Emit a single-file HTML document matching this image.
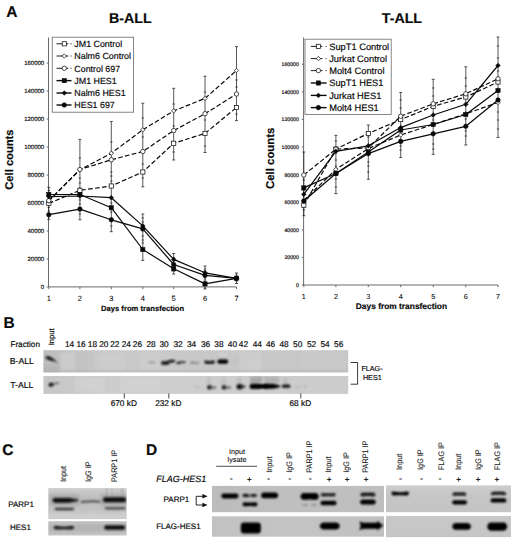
<!DOCTYPE html>
<html lang="en"><head><meta charset="utf-8"><title>Figure</title>
<style>
html,body{margin:0;padding:0;background:#fff;}
svg{display:block;font-family:"Liberation Sans", sans-serif;}
text{fill:#0a0a0a;stroke:#0a0a0a;stroke-width:0.18px;text-rendering:geometricPrecision;}
.b{font-weight:bold;}
.tk{font-size:6px;fill:#222;}
.tk2{font-size:5.2px;fill:#222;}
.xt{font-size:7.6px;fill:#111;}
.lg{font-size:8.9px;}
.ax{stroke:#6a6a6a;stroke-width:1;fill:none;}
.eb{stroke:#222;stroke-width:0.75;fill:none;}
.sl{stroke:#0a0a0a;stroke-width:1.2;fill:none;stroke-linejoin:round;}
.dl{stroke:#0a0a0a;stroke-width:1.2;fill:none;stroke-dasharray:4.7 2.3;stroke-linejoin:round;}
.om{fill:#fff;stroke:#111;stroke-width:0.75;}
.fm{fill:#0a0a0a;stroke:#0a0a0a;stroke-width:0.5;}
.s8{font-size:8px;}
.rl{font-size:8.1px;stroke:#161616;stroke-width:0.08px;fill:#161616;}
.s7{font-size:7.2px;stroke-width:0.08px;}
</style></head><body>
<svg width="520" height="541" viewBox="0 0 520 541">
<defs>
<filter id="b1" x="-20%" y="-100%" width="140%" height="300%"><feGaussianBlur stdDeviation="0.8"/></filter>
<filter id="b2" x="-20%" y="-100%" width="140%" height="300%"><feGaussianBlur stdDeviation="1.1"/></filter>
<filter id="b3" x="-20%" y="-100%" width="140%" height="300%"><feGaussianBlur stdDeviation="1.8"/></filter>
<filter id="b0" x="-5%" y="-5%" width="110%" height="110%"><feGaussianBlur stdDeviation="0.35"/></filter>
<linearGradient id="gB" x1="0" x2="1" y1="0" y2="0"><stop offset="0" stop-color="#bdbdbd"/><stop offset="0.25" stop-color="#c9c9c9"/><stop offset="1" stop-color="#c6c6c6"/></linearGradient>
<linearGradient id="gT" x1="0" x2="1" y1="0" y2="0"><stop offset="0" stop-color="#c6c6c6"/><stop offset="0.3" stop-color="#cfcfcf"/><stop offset="1" stop-color="#cbcbcb"/></linearGradient>
<clipPath id="cpB1"><rect x="43.4" y="350.2" width="304.8" height="22.2"/></clipPath>
<clipPath id="cpB2"><rect x="43.4" y="376.0" width="304.8" height="17.9"/></clipPath>
<clipPath id="cpC1"><rect x="48.3" y="488.1" width="78.3" height="31.0"/></clipPath>
<clipPath id="cpC2"><rect x="48.3" y="521.2" width="78.3" height="14.3"/></clipPath>
<linearGradient id="gC1" x1="0" x2="0" y1="0" y2="1"><stop offset="0" stop-color="#cfcfcf"/><stop offset="0.3" stop-color="#bdbdbd"/><stop offset="0.65" stop-color="#c2c2c2"/><stop offset="1" stop-color="#cbcbcb"/></linearGradient>
<linearGradient id="gC2" x1="0" x2="0" y1="0" y2="1"><stop offset="0" stop-color="#c4c4c4"/><stop offset="0.5" stop-color="#b9b9b9"/><stop offset="1" stop-color="#c6c6c6"/></linearGradient>
<linearGradient id="gD1" x1="0" x2="1" y1="0" y2="0"><stop offset="0" stop-color="#bcbcbc"/><stop offset="0.5" stop-color="#c0c0c0"/><stop offset="1" stop-color="#bebebe"/></linearGradient>
<linearGradient id="gD2" x1="0" x2="1" y1="0" y2="0"><stop offset="0" stop-color="#c2c2c2"/><stop offset="0.5" stop-color="#c4c4c4"/><stop offset="1" stop-color="#c0c0c0"/></linearGradient>
<linearGradient id="gD3" x1="0" x2="0" y1="0" y2="1"><stop offset="0" stop-color="#cdcdcd"/><stop offset="0.4" stop-color="#c6c6c6"/><stop offset="1" stop-color="#c4c4c4"/></linearGradient>
<linearGradient id="gD4" x1="0" x2="0" y1="0" y2="1"><stop offset="0" stop-color="#c8c8c8"/><stop offset="1" stop-color="#c5c5c5"/></linearGradient>
</defs>
<rect width="520" height="541" fill="#fff"/>

<path class="ax" d="M48.50 37.50V286.90H236.50"/>
<path class="ax" d="M46.70 287.00H48.50"/>
<text class="tk" x="44.20" y="289.20" text-anchor="end">0</text>
<path class="ax" d="M46.70 259.01H48.50"/>
<text class="tk" x="44.20" y="261.21" text-anchor="end">20000</text>
<path class="ax" d="M46.70 231.03H48.50"/>
<text class="tk" x="44.20" y="233.22" text-anchor="end">40000</text>
<path class="ax" d="M46.70 203.04H48.50"/>
<text class="tk" x="44.20" y="205.24" text-anchor="end">60000</text>
<path class="ax" d="M46.70 175.05H48.50"/>
<text class="tk" x="44.20" y="177.25" text-anchor="end">80000</text>
<path class="ax" d="M46.70 147.06H48.50"/>
<text class="tk" x="44.20" y="149.26" text-anchor="end">100000</text>
<path class="ax" d="M46.70 119.07H48.50"/>
<text class="tk" x="44.20" y="121.27" text-anchor="end">120000</text>
<path class="ax" d="M46.70 91.09H48.50"/>
<text class="tk" x="44.20" y="93.29" text-anchor="end">140000</text>
<path class="ax" d="M46.70 63.10H48.50"/>
<text class="tk" x="44.20" y="65.30" text-anchor="end">160000</text>
<path class="ax" d="M48.80 286.90v2.2"/>
<text font-size="7.5" x="48.80" y="300.90" text-anchor="middle" style="stroke-width:0.08px">1</text>
<path class="ax" d="M79.90 286.90v2.2"/>
<text font-size="7.5" x="79.90" y="300.90" text-anchor="middle" style="stroke-width:0.08px">2</text>
<path class="ax" d="M111.30 286.90v2.2"/>
<text font-size="7.5" x="111.30" y="300.90" text-anchor="middle" style="stroke-width:0.08px">3</text>
<path class="ax" d="M142.80 286.90v2.2"/>
<text font-size="7.5" x="142.80" y="300.90" text-anchor="middle" style="stroke-width:0.08px">4</text>
<path class="ax" d="M173.70 286.90v2.2"/>
<text font-size="7.5" x="173.70" y="300.90" text-anchor="middle" style="stroke-width:0.08px">5</text>
<path class="ax" d="M205.00 286.90v2.2"/>
<text font-size="7.5" x="205.00" y="300.90" text-anchor="middle" style="stroke-width:0.08px">6</text>
<path class="ax" d="M236.50 286.90v2.2"/>
<text font-size="7.5" x="236.50" y="300.90" text-anchor="middle" style="stroke-width:0.08px">7</text>
<text class="b" font-size="7.65" x="142.60" y="310.80" text-anchor="middle">Days from transfection</text>
<text class="b" font-size="11.2" transform="translate(13.20 159.60) rotate(-90)" text-anchor="middle">Cell counts</text>
<path class="eb" d="M48.80 187.40V219.40M47.30 187.40H50.30M47.30 219.40H50.30M47.60 190.50H50.00M47.60 193.00H50.00M47.60 198.00H50.00M47.60 207.50H50.00M47.60 211.00H50.00"/>
<path class="eb" d="M79.90 139.40V219.80M78.40 139.40H81.40M78.40 219.80H81.40M78.70 158.00H81.10M78.70 178.00H81.10M78.70 183.00H81.10M78.70 188.00H81.10M78.70 200.00H81.10M78.70 204.00H81.10M78.70 214.00H81.10"/>
<path class="eb" d="M111.30 121.50V231.70M109.80 121.50H112.80M109.80 231.70H112.80M110.10 142.00H112.50M110.10 172.00H112.50M110.10 176.00H112.50M110.10 181.00H112.50M110.10 197.00H112.50M110.10 203.00H112.50M110.10 212.00H112.50M110.10 226.00H112.50"/>
<path class="eb" d="M142.80 103.20V186.80M141.30 103.20H144.30M141.30 186.80H144.30M141.60 118.00H144.00M141.60 137.00H144.00M141.60 164.00H144.00M141.60 178.00H144.00"/>
<path class="eb" d="M142.80 214.00V260.40M141.30 214.00H144.30M141.30 260.40H144.30M141.60 218.00H144.00M141.60 222.00H144.00M141.60 236.00H144.00M141.60 240.00H144.00M141.60 243.00H144.00"/>
<path class="eb" d="M173.70 88.30V160.00M172.20 88.30H175.20M172.20 160.00H175.20M172.50 104.00H174.90M172.50 126.00H174.90M172.50 152.00H174.90"/>
<path class="eb" d="M173.70 253.50V274.00M172.20 253.50H175.20M172.20 274.00H175.20M172.50 258.00H174.90M172.50 261.00H174.90M172.50 268.00H174.90M172.50 271.00H174.90"/>
<path class="eb" d="M205.00 76.20V152.50M203.50 76.20H206.50M203.50 152.50H206.50M203.80 92.00H206.20M203.80 120.00H206.20M203.80 146.00H206.20"/>
<path class="eb" d="M205.00 266.00V289.00M203.50 266.00H206.50M203.50 289.00H206.50M203.80 269.00H206.20M203.80 271.00H206.20M203.80 279.00H206.20M203.80 281.00H206.20"/>
<path class="eb" d="M236.50 46.60V120.60M235.00 46.60H238.00M235.00 120.60H238.00M235.30 80.00H237.70M235.30 87.00H237.70M235.30 114.00H237.70"/>
<path class="eb" d="M236.50 273.00V283.50M235.00 273.00H238.00M235.00 283.50H238.00M235.30 275.00H237.70M235.30 281.00H237.70"/>
<polyline class="dl" points="48.80,203.40 79.90,190.30 111.30,186.00 142.80,172.00 173.70,143.30 205.00,133.40 236.50,107.50"/>
<polyline class="dl" points="48.80,201.00 79.90,169.80 111.30,153.20 142.80,129.80 173.70,110.90 205.00,98.40 236.50,70.50"/>
<polyline class="dl" points="48.80,200.60 79.90,169.50 111.30,159.80 142.80,151.50 173.70,130.60 205.00,113.70 236.50,94.00"/>
<polyline class="sl" points="48.80,194.50 79.90,194.50 111.30,207.70 142.80,249.50 173.70,268.80 205.00,283.90 236.50,278.30"/>
<polyline class="sl" points="48.80,196.60 79.90,196.00 111.30,197.70 142.80,225.90 173.70,259.40 205.00,272.80 236.50,278.30"/>
<polyline class="sl" points="48.80,214.70 79.90,209.10 111.30,219.80 142.80,228.90 173.70,264.50 205.00,275.40 236.50,278.30"/>
<rect class="om" x="46.70" y="201.30" width="4.20" height="4.20"/>
<rect class="om" x="77.80" y="188.20" width="4.20" height="4.20"/>
<rect class="om" x="109.20" y="183.90" width="4.20" height="4.20"/>
<rect class="om" x="140.70" y="169.90" width="4.20" height="4.20"/>
<rect class="om" x="171.60" y="141.20" width="4.20" height="4.20"/>
<rect class="om" x="202.90" y="131.30" width="4.20" height="4.20"/>
<rect class="om" x="234.40" y="105.40" width="4.20" height="4.20"/>
<path class="om" d="M48.80 198.85L50.95 201.00L48.80 203.15L46.65 201.00Z"/>
<path class="om" d="M79.90 167.65L82.05 169.80L79.90 171.95L77.75 169.80Z"/>
<path class="om" d="M111.30 151.05L113.45 153.20L111.30 155.35L109.15 153.20Z"/>
<path class="om" d="M142.80 127.65L144.95 129.80L142.80 131.95L140.65 129.80Z"/>
<path class="om" d="M173.70 108.75L175.85 110.90L173.70 113.05L171.55 110.90Z"/>
<path class="om" d="M205.00 96.25L207.15 98.40L205.00 100.55L202.85 98.40Z"/>
<path class="om" d="M236.50 68.35L238.65 70.50L236.50 72.65L234.35 70.50Z"/>
<circle class="om" cx="48.80" cy="200.60" r="2.20"/>
<circle class="om" cx="79.90" cy="169.50" r="2.20"/>
<circle class="om" cx="111.30" cy="159.80" r="2.20"/>
<circle class="om" cx="142.80" cy="151.50" r="2.20"/>
<circle class="om" cx="173.70" cy="130.60" r="2.20"/>
<circle class="om" cx="205.00" cy="113.70" r="2.20"/>
<circle class="om" cx="236.50" cy="94.00" r="2.20"/>
<rect class="fm" x="46.65" y="192.35" width="4.30" height="4.30"/>
<rect class="fm" x="77.75" y="192.35" width="4.30" height="4.30"/>
<rect class="fm" x="109.15" y="205.55" width="4.30" height="4.30"/>
<rect class="fm" x="140.65" y="247.35" width="4.30" height="4.30"/>
<rect class="fm" x="171.55" y="266.65" width="4.30" height="4.30"/>
<rect class="fm" x="202.85" y="281.75" width="4.30" height="4.30"/>
<rect class="fm" x="234.35" y="276.15" width="4.30" height="4.30"/>
<path class="fm" d="M48.80 194.25L51.15 196.60L48.80 198.95L46.45 196.60Z"/>
<path class="fm" d="M79.90 193.65L82.25 196.00L79.90 198.35L77.55 196.00Z"/>
<path class="fm" d="M111.30 195.35L113.65 197.70L111.30 200.05L108.95 197.70Z"/>
<path class="fm" d="M142.80 223.55L145.15 225.90L142.80 228.25L140.45 225.90Z"/>
<path class="fm" d="M173.70 257.05L176.05 259.40L173.70 261.75L171.35 259.40Z"/>
<path class="fm" d="M205.00 270.45L207.35 272.80L205.00 275.15L202.65 272.80Z"/>
<path class="fm" d="M236.50 275.95L238.85 278.30L236.50 280.65L234.15 278.30Z"/>
<circle class="fm" cx="48.80" cy="214.70" r="2.30"/>
<circle class="fm" cx="79.90" cy="209.10" r="2.30"/>
<circle class="fm" cx="111.30" cy="219.80" r="2.30"/>
<circle class="fm" cx="142.80" cy="228.90" r="2.30"/>
<circle class="fm" cx="173.70" cy="264.50" r="2.30"/>
<circle class="fm" cx="205.00" cy="275.40" r="2.30"/>
<circle class="fm" cx="236.50" cy="278.30" r="2.30"/>
<rect x="52.2" y="37.2" width="81.40" height="75.00" fill="#fff" stroke="#6a6a6a" stroke-width="0.8"/>
<path d="M56.5 43.8H68.30" stroke="#1a1a1a" stroke-width="1.0" fill="none"/>
<path d="M70.50 43.8h1.1" stroke="#333" stroke-width="1.0" fill="none"/>
<rect class="om" x="62.20" y="41.70" width="4.20" height="4.20"/>
<text font-size="8.9" x="74.3" y="47.00">JM1 Control</text>
<path d="M56.5 56.0H68.30" stroke="#1a1a1a" stroke-width="1.0" fill="none"/>
<path d="M70.50 56.0h1.1" stroke="#333" stroke-width="1.0" fill="none"/>
<path class="om" d="M64.30 53.85L66.45 56.00L64.30 58.15L62.15 56.00Z"/>
<text font-size="8.9" x="74.3" y="59.20">Nalm6 Control</text>
<path d="M56.5 68.3H68.30" stroke="#1a1a1a" stroke-width="1.0" fill="none"/>
<path d="M70.50 68.3h1.1" stroke="#333" stroke-width="1.0" fill="none"/>
<circle class="om" cx="64.30" cy="68.30" r="2.20"/>
<text font-size="8.9" x="74.3" y="71.50">Control 697</text>
<path d="M56.5 80.6H71.5" stroke="#0a0a0a" stroke-width="1.4" fill="none"/>
<rect class="fm" x="62.15" y="78.45" width="4.30" height="4.30"/>
<text font-size="8.9" x="74.3" y="83.80">JM1 HES1</text>
<path d="M56.5 93.0H71.5" stroke="#0a0a0a" stroke-width="1.4" fill="none"/>
<path class="fm" d="M64.30 90.65L66.65 93.00L64.30 95.35L61.95 93.00Z"/>
<text font-size="8.9" x="74.3" y="96.20">Nalm6 HES1</text>
<path d="M56.5 105.0H71.5" stroke="#0a0a0a" stroke-width="1.4" fill="none"/>
<circle class="fm" cx="64.30" cy="105.00" r="2.30"/>
<text font-size="8.9" x="74.3" y="108.20">HES1 697</text>
<path class="ax" d="M303.60 37.50V285.00H498.00"/>
<path class="ax" d="M301.80 285.00H303.60"/>
<text class="tk2" x="298.90" y="286.90" text-anchor="end">0</text>
<path class="ax" d="M301.80 257.41H303.60"/>
<text class="tk2" x="298.90" y="259.31" text-anchor="end">20000</text>
<path class="ax" d="M301.80 229.81H303.60"/>
<text class="tk2" x="298.90" y="231.71" text-anchor="end">40000</text>
<path class="ax" d="M301.80 202.22H303.60"/>
<text class="tk2" x="298.90" y="204.12" text-anchor="end">60000</text>
<path class="ax" d="M301.80 174.62H303.60"/>
<text class="tk2" x="298.90" y="176.53" text-anchor="end">80000</text>
<path class="ax" d="M301.80 147.03H303.60"/>
<text class="tk2" x="298.90" y="148.93" text-anchor="end">100000</text>
<path class="ax" d="M301.80 119.44H303.60"/>
<text class="tk2" x="298.90" y="121.34" text-anchor="end">120000</text>
<path class="ax" d="M301.80 91.84H303.60"/>
<text class="tk2" x="298.90" y="93.74" text-anchor="end">140000</text>
<path class="ax" d="M301.80 64.25H303.60"/>
<text class="tk2" x="298.90" y="66.15" text-anchor="end">160000</text>
<path class="ax" d="M303.80 285.00v2.2"/>
<text font-size="7.2" x="303.80" y="298.60" text-anchor="middle" style="stroke-width:0.08px">1</text>
<path class="ax" d="M335.90 285.00v2.2"/>
<text font-size="7.2" x="335.90" y="298.60" text-anchor="middle" style="stroke-width:0.08px">2</text>
<path class="ax" d="M368.30 285.00v2.2"/>
<text font-size="7.2" x="368.30" y="298.60" text-anchor="middle" style="stroke-width:0.08px">3</text>
<path class="ax" d="M400.70 285.00v2.2"/>
<text font-size="7.2" x="400.70" y="298.60" text-anchor="middle" style="stroke-width:0.08px">4</text>
<path class="ax" d="M433.20 285.00v2.2"/>
<text font-size="7.2" x="433.20" y="298.60" text-anchor="middle" style="stroke-width:0.08px">5</text>
<path class="ax" d="M465.80 285.00v2.2"/>
<text font-size="7.2" x="465.80" y="298.60" text-anchor="middle" style="stroke-width:0.08px">6</text>
<path class="ax" d="M498.00 285.00v2.2"/>
<text font-size="7.2" x="498.00" y="298.60" text-anchor="middle" style="stroke-width:0.08px">7</text>
<text class="b" font-size="8.4" x="401.40" y="308.60" text-anchor="middle">Days from transfection</text>
<text class="b" font-size="11.4" transform="translate(274.00 158.30) rotate(-90)" text-anchor="middle">Cell counts</text>
<path class="eb" d="M303.80 152.00V215.70M302.30 152.00H305.30M302.30 215.70H305.30M302.60 180.00H305.00M302.60 190.00H305.00M302.60 207.00H305.00M302.60 210.00H305.00"/>
<path class="eb" d="M335.90 135.40V193.60M334.40 135.40H337.40M334.40 193.60H337.40M334.70 141.00H337.10M334.70 160.00H337.10M334.70 166.00H337.10M334.70 179.00H337.10M334.70 187.00H337.10"/>
<path class="eb" d="M368.30 125.00V179.30M366.80 125.00H369.80M366.80 179.30H369.80M367.10 137.00H369.50M367.10 162.00H369.50M367.10 166.00H369.50M367.10 172.00H369.50"/>
<path class="eb" d="M400.70 92.50V157.50M399.20 92.50H402.20M399.20 157.50H402.20M399.50 100.00H401.90M399.50 108.00H401.90M399.50 146.00H401.90M399.50 150.00H401.90"/>
<path class="eb" d="M433.20 79.30V154.30M431.70 79.30H434.70M431.70 154.30H434.70M432.00 88.00H434.40M432.00 96.00H434.40M432.00 120.00H434.40M432.00 144.00H434.40M432.00 149.00H434.40"/>
<path class="eb" d="M465.80 66.80V145.00M464.30 66.80H467.30M464.30 145.00H467.30M464.60 78.00H467.00M464.60 86.00H467.00M464.60 119.00H467.00M464.60 131.00H467.00M464.60 136.00H467.00"/>
<path class="eb" d="M498.00 37.00V137.50M496.50 37.00H499.50M496.50 137.50H499.50M496.80 46.00H499.20M496.80 58.00H499.20M496.80 71.00H499.20M496.80 112.00H499.20M496.80 120.00H499.20M496.80 129.00H499.20"/>
<polyline class="dl" points="303.80,205.20 335.90,149.00 368.30,133.50 400.70,119.60 433.20,106.30 465.80,97.00 498.00,82.00"/>
<polyline class="dl" points="303.80,200.50 335.90,169.40 368.30,148.50 400.70,135.00 433.20,124.50 465.80,113.80 498.00,102.50"/>
<polyline class="dl" points="303.80,175.00 335.90,149.20 368.30,147.90 400.70,116.20 433.20,103.80 465.80,93.80 498.00,78.80"/>
<polyline class="sl" points="303.80,187.90 335.90,173.50 368.30,152.00 400.70,130.00 433.20,124.50 465.80,114.50 498.00,90.50"/>
<polyline class="sl" points="303.80,194.30 335.90,151.30 368.30,145.80 400.70,127.60 433.20,115.00 465.80,104.30 498.00,65.50"/>
<polyline class="sl" points="303.80,201.00 335.90,173.50 368.30,153.60 400.70,141.40 433.20,133.80 465.80,126.30 498.00,100.00"/>
<rect class="om" x="301.70" y="203.10" width="4.20" height="4.20"/>
<rect class="om" x="333.80" y="146.90" width="4.20" height="4.20"/>
<rect class="om" x="366.20" y="131.40" width="4.20" height="4.20"/>
<rect class="om" x="398.60" y="117.50" width="4.20" height="4.20"/>
<rect class="om" x="431.10" y="104.20" width="4.20" height="4.20"/>
<rect class="om" x="463.70" y="94.90" width="4.20" height="4.20"/>
<rect class="om" x="495.90" y="79.90" width="4.20" height="4.20"/>
<path class="om" d="M303.80 198.35L305.95 200.50L303.80 202.65L301.65 200.50Z"/>
<path class="om" d="M335.90 167.25L338.05 169.40L335.90 171.55L333.75 169.40Z"/>
<path class="om" d="M368.30 146.35L370.45 148.50L368.30 150.65L366.15 148.50Z"/>
<path class="om" d="M400.70 132.85L402.85 135.00L400.70 137.15L398.55 135.00Z"/>
<path class="om" d="M433.20 122.35L435.35 124.50L433.20 126.65L431.05 124.50Z"/>
<path class="om" d="M465.80 111.65L467.95 113.80L465.80 115.95L463.65 113.80Z"/>
<path class="om" d="M498.00 100.35L500.15 102.50L498.00 104.65L495.85 102.50Z"/>
<circle class="om" cx="303.80" cy="175.00" r="2.20"/>
<circle class="om" cx="335.90" cy="149.20" r="2.20"/>
<circle class="om" cx="368.30" cy="147.90" r="2.20"/>
<circle class="om" cx="400.70" cy="116.20" r="2.20"/>
<circle class="om" cx="433.20" cy="103.80" r="2.20"/>
<circle class="om" cx="465.80" cy="93.80" r="2.20"/>
<circle class="om" cx="498.00" cy="78.80" r="2.20"/>
<rect class="fm" x="301.65" y="185.75" width="4.30" height="4.30"/>
<rect class="fm" x="333.75" y="171.35" width="4.30" height="4.30"/>
<rect class="fm" x="366.15" y="149.85" width="4.30" height="4.30"/>
<rect class="fm" x="398.55" y="127.85" width="4.30" height="4.30"/>
<rect class="fm" x="431.05" y="122.35" width="4.30" height="4.30"/>
<rect class="fm" x="463.65" y="112.35" width="4.30" height="4.30"/>
<rect class="fm" x="495.85" y="88.35" width="4.30" height="4.30"/>
<path class="fm" d="M303.80 191.95L306.15 194.30L303.80 196.65L301.45 194.30Z"/>
<path class="fm" d="M335.90 148.95L338.25 151.30L335.90 153.65L333.55 151.30Z"/>
<path class="fm" d="M368.30 143.45L370.65 145.80L368.30 148.15L365.95 145.80Z"/>
<path class="fm" d="M400.70 125.25L403.05 127.60L400.70 129.95L398.35 127.60Z"/>
<path class="fm" d="M433.20 112.65L435.55 115.00L433.20 117.35L430.85 115.00Z"/>
<path class="fm" d="M465.80 101.95L468.15 104.30L465.80 106.65L463.45 104.30Z"/>
<path class="fm" d="M498.00 63.15L500.35 65.50L498.00 67.85L495.65 65.50Z"/>
<circle class="fm" cx="303.80" cy="201.00" r="2.30"/>
<circle class="fm" cx="335.90" cy="173.50" r="2.30"/>
<circle class="fm" cx="368.30" cy="153.60" r="2.30"/>
<circle class="fm" cx="400.70" cy="141.40" r="2.30"/>
<circle class="fm" cx="433.20" cy="133.80" r="2.30"/>
<circle class="fm" cx="465.80" cy="126.30" r="2.30"/>
<circle class="fm" cx="498.00" cy="100.00" r="2.30"/>
<rect x="305.0" y="39.2" width="86.20" height="75.20" fill="#fff" stroke="#6a6a6a" stroke-width="0.8"/>
<path d="M310.8 46.4H322.40" stroke="#1a1a1a" stroke-width="1.0" fill="none"/>
<path d="M325.60 46.4h1.1" stroke="#333" stroke-width="1.0" fill="none"/>
<rect class="om" x="316.30" y="44.30" width="4.20" height="4.20"/>
<text font-size="9.3" x="329.2" y="49.60">SupT1 Control</text>
<path d="M310.8 58.6H322.40" stroke="#1a1a1a" stroke-width="1.0" fill="none"/>
<path d="M325.60 58.6h1.1" stroke="#333" stroke-width="1.0" fill="none"/>
<path class="om" d="M318.40 56.45L320.55 58.60L318.40 60.75L316.25 58.60Z"/>
<text font-size="9.3" x="329.2" y="61.80">Jurkat Control</text>
<path d="M310.8 70.6H322.40" stroke="#1a1a1a" stroke-width="1.0" fill="none"/>
<path d="M325.60 70.6h1.1" stroke="#333" stroke-width="1.0" fill="none"/>
<circle class="om" cx="318.40" cy="70.60" r="2.20"/>
<text font-size="9.3" x="329.2" y="73.80">Molt4 Control</text>
<path d="M310.8 83.0H326.6" stroke="#0a0a0a" stroke-width="1.4" fill="none"/>
<rect class="fm" x="316.25" y="80.85" width="4.30" height="4.30"/>
<text font-size="9.3" x="329.2" y="86.20">SupT1 HES1</text>
<path d="M310.8 95.4H326.6" stroke="#0a0a0a" stroke-width="1.4" fill="none"/>
<path class="fm" d="M318.40 93.05L320.75 95.40L318.40 97.75L316.05 95.40Z"/>
<text font-size="9.3" x="329.2" y="98.60">Jurkat HES1</text>
<path d="M310.8 107.6H326.6" stroke="#0a0a0a" stroke-width="1.4" fill="none"/>
<circle class="fm" cx="318.40" cy="107.60" r="2.30"/>
<text font-size="9.3" x="329.2" y="110.80">Molt4 HES1</text>
<text class="b" font-size="14.2" x="130.4" y="23" text-anchor="middle">B-ALL</text>
<text class="b" font-size="14.2" x="401.9" y="22.5" text-anchor="middle">T-ALL</text>
<text class="b" font-size="15.5" x="6.2" y="17.2">A</text>
<text class="b" font-size="15.5" x="3.6" y="328.1">B</text>
<text class="b" font-size="15.5" x="2.2" y="454.7">C</text>
<text class="b" font-size="15.5" x="146" y="455.3">D</text>
<rect x="43.4" y="350.2" width="304.8" height="22.2" fill="url(#gB)"/>
<rect x="43.4" y="376.0" width="304.8" height="17.9" fill="url(#gT)"/>
<text font-size="8.2" x="10.4" y="346.7">Fraction</text>
<text font-size="7.6" transform="translate(53.7 345.3) rotate(-90)">Input</text>
<text font-size="8.3" x="69.6" y="346.9" text-anchor="middle">14</text>
<text font-size="8.3" x="81.0" y="346.9" text-anchor="middle">16</text>
<text font-size="8.3" x="92.4" y="346.9" text-anchor="middle">18</text>
<text font-size="8.3" x="103.75" y="346.9" text-anchor="middle">20</text>
<text font-size="8.3" x="114.8" y="346.9" text-anchor="middle">22</text>
<text font-size="8.3" x="126.25" y="346.9" text-anchor="middle">24</text>
<text font-size="8.3" x="137.4" y="346.9" text-anchor="middle">26</text>
<text font-size="8.3" x="151.0" y="346.9" text-anchor="middle">28</text>
<text font-size="8.3" x="164.1" y="346.9" text-anchor="middle">30</text>
<text font-size="8.3" x="178.0" y="346.9" text-anchor="middle">32</text>
<text font-size="8.3" x="191.5" y="346.9" text-anchor="middle">34</text>
<text font-size="8.3" x="205.5" y="346.9" text-anchor="middle">36</text>
<text font-size="8.3" x="218.9" y="346.9" text-anchor="middle">38</text>
<text font-size="8.3" x="232.4" y="346.9" text-anchor="middle">40</text>
<text font-size="8.3" x="243.4" y="346.9" text-anchor="middle">42</text>
<text font-size="8.3" x="257.3" y="346.9" text-anchor="middle">44</text>
<text font-size="8.3" x="270.6" y="346.9" text-anchor="middle">46</text>
<text font-size="8.3" x="284.0" y="346.9" text-anchor="middle">48</text>
<text font-size="8.3" x="297.7" y="346.9" text-anchor="middle">50</text>
<text font-size="8.3" x="311.5" y="346.9" text-anchor="middle">52</text>
<text font-size="8.3" x="325.0" y="346.9" text-anchor="middle">54</text>
<text font-size="8.3" x="338.7" y="346.9" text-anchor="middle">56</text>
<text font-size="8.7" x="9.8" y="364.4">B-ALL</text>
<text font-size="8.7" x="10.2" y="387.6">T-ALL</text>
<path d="M124.3 393.4V398.4" stroke="#333" stroke-width="0.9"/>
<text font-size="8.3" x="123.8" y="406.4" text-anchor="middle">670 kD</text>
<path d="M168.8 393.4V398.4" stroke="#333" stroke-width="0.9"/>
<text font-size="8.3" x="168.3" y="406.4" text-anchor="middle">232 kD</text>
<path d="M300.8 393.4V398.4" stroke="#333" stroke-width="0.9"/>
<text font-size="8.3" x="300.3" y="406.4" text-anchor="middle">68 kD</text>
<path d="M350.6 362.5H357.6V384.2H350.6" fill="none" stroke="#222" stroke-width="0.9"/>
<text font-size="7.2" x="372" y="371.3" text-anchor="middle">FLAG-</text>
<text font-size="7.2" x="372.3" y="379.9" text-anchor="middle">HES1</text>
<g clip-path="url(#cpB1)">
<rect x="60.00" y="352.00" width="15.00" height="19.00" fill="#d6d6d6" opacity="0.5" filter="url(#b3)"/>
<rect x="95.00" y="352.00" width="30.00" height="19.00" fill="#d2d2d2" opacity="0.45" filter="url(#b3)"/>
<rect x="140.00" y="352.00" width="20.00" height="19.00" fill="#d4d4d4" opacity="0.4" filter="url(#b3)"/>
<rect x="240.00" y="352.00" width="22.00" height="19.00" fill="#d6d6d6" opacity="0.45" filter="url(#b3)"/>
<rect x="300.00" y="352.00" width="48.00" height="19.00" fill="#cfcfcf" opacity="0.35" filter="url(#b3)"/>
<rect x="43.00" y="366.00" width="17.00" height="7.00" fill="#aaa" opacity="0.4" filter="url(#b3)"/>
<rect x="43.00" y="370.50" width="305.00" height="2.50" fill="#a8a8a8" opacity="0.35" filter="url(#b2)"/>
</g>
<g clip-path="url(#cpB2)">
<rect x="75.00" y="377.00" width="30.00" height="15.00" fill="#d8d8d8" opacity="0.5" filter="url(#b3)"/>
<rect x="120.00" y="377.00" width="40.00" height="15.00" fill="#d6d6d6" opacity="0.4" filter="url(#b3)"/>
<rect x="300.00" y="377.00" width="48.00" height="15.00" fill="#d2d2d2" opacity="0.3" filter="url(#b3)"/>
</g>
<g clip-path="url(#cpB1)">
<path d="M46.2 356.6 Q49.5 356.2 52.5 358.6 L55.4 361.2 Q51 360.6 46.4 358.6Z" fill="#0a0a0a" stroke="#0a0a0a" stroke-width="0.8" stroke-linejoin="round" filter="url(#b1)"/>
<path d="M54 360L57.8 363.4" stroke="#555" stroke-width="1.3" stroke-linecap="round" fill="none" filter="url(#b1)" opacity="0.55"/>
<path d="M148.30 362.40L148.79 361.66L149.29 361.60L149.78 361.60L150.27 361.60L150.76 361.60L151.26 361.60L151.75 361.60L152.24 361.60L152.74 361.60L153.23 361.60L153.72 361.60L154.21 361.60L154.71 361.66L155.20 362.40L155.20 362.40L154.71 363.14L154.21 363.20L153.72 363.20L153.23 363.20L152.74 363.20L152.24 363.20L151.75 363.20L151.26 363.20L150.76 363.20L150.27 363.20L149.78 363.20L149.29 363.20L148.79 363.14L148.30 362.40Z" fill="#555" opacity="0.45" filter="url(#b1)"/>
<path d="M161.00 363.00L161.61 361.70L162.21 361.37L162.82 361.30L163.43 361.30L164.04 361.30L164.64 361.30L165.25 361.30L165.86 361.30L166.46 361.30L167.07 361.30L167.68 361.30L168.29 361.37L168.89 361.70L169.50 363.00L169.50 363.00L168.89 364.30L168.29 364.63L167.68 364.70L167.07 364.70L166.46 364.70L165.86 364.70L165.25 364.70L164.64 364.70L164.04 364.70L163.43 364.70L162.82 364.70L162.21 364.63L161.61 364.30L161.00 363.00Z" fill="#0a0a0a" opacity="1.0" filter="url(#b1)"/>
<path d="M167.50 361.50L168.05 360.40L168.60 360.13L169.15 360.07L169.70 360.03L170.25 359.99L170.80 359.94L171.35 359.90L171.90 359.86L172.45 359.81L173.00 359.77L173.55 359.73L174.10 359.70L174.65 359.88L175.20 360.90L175.20 360.90L174.65 362.00L174.10 362.27L173.55 362.33L173.00 362.37L172.45 362.41L171.90 362.46L171.35 362.50L170.80 362.54L170.25 362.59L169.70 362.63L169.15 362.67L168.60 362.70L168.05 362.52L167.50 361.50Z" fill="#0c0c0c" opacity="1.0" filter="url(#b1)"/>
<path d="M176.20 362.80L176.54 361.98L176.89 361.75L177.23 361.66L177.57 361.65L177.91 361.65L178.26 361.65L178.60 361.65L178.94 361.65L179.29 361.65L179.63 361.65L179.97 361.66L180.31 361.75L180.66 361.98L181.00 362.80L181.00 362.80L180.66 363.62L180.31 363.85L179.97 363.94L179.63 363.95L179.29 363.95L178.94 363.95L178.60 363.95L178.26 363.95L177.91 363.95L177.57 363.95L177.23 363.94L176.89 363.85L176.54 363.62L176.20 362.80Z" fill="#1a1a1a" opacity="0.95" filter="url(#b1)"/>
<path d="M180.00 362.20L180.41 361.47L180.83 361.35L181.24 361.35L181.66 361.35L182.07 361.35L182.49 361.35L182.90 361.35L183.31 361.35L183.73 361.35L184.14 361.35L184.56 361.35L184.97 361.35L185.39 361.47L185.80 362.20L185.80 362.20L185.39 362.93L184.97 363.05L184.56 363.05L184.14 363.05L183.73 363.05L183.31 363.05L182.90 363.05L182.49 363.05L182.07 363.05L181.66 363.05L181.24 363.05L180.83 363.05L180.41 362.93L180.00 362.20Z" fill="#1a1a1a" opacity="0.9" filter="url(#b1)"/>
<path d="M190.00 362.60L190.29 361.94L190.57 361.76L190.86 361.70L191.14 361.70L191.43 361.70L191.71 361.70L192.00 361.70L192.29 361.70L192.57 361.70L192.86 361.70L193.14 361.70L193.43 361.76L193.71 361.94L194.00 362.60L194.00 362.60L193.71 363.26L193.43 363.44L193.14 363.50L192.86 363.50L192.57 363.50L192.29 363.50L192.00 363.50L191.71 363.50L191.43 363.50L191.14 363.50L190.86 363.50L190.57 363.44L190.29 363.26L190.00 362.60Z" fill="#444" opacity="0.65" filter="url(#b1)"/>
<path d="M193.50 362.90L193.92 362.20L194.34 362.10L194.76 362.10L195.19 362.10L195.61 362.10L196.03 362.10L196.45 362.10L196.87 362.10L197.29 362.10L197.71 362.10L198.14 362.10L198.56 362.10L198.98 362.20L199.40 362.90L199.40 362.90L198.98 363.60L198.56 363.70L198.14 363.70L197.71 363.70L197.29 363.70L196.87 363.70L196.45 363.70L196.03 363.70L195.61 363.70L195.19 363.70L194.76 363.70L194.34 363.70L193.92 363.60L193.50 362.90Z" fill="#555" opacity="0.6" filter="url(#b1)"/>
<path d="M204.20 361.73L204.97 360.53L205.74 360.48L206.51 360.66L207.29 360.81L208.06 360.93L208.83 361.00L209.60 361.03L210.37 361.00L211.14 360.93L211.91 360.81L212.69 360.66L213.46 360.48L214.23 360.53L215.00 361.73L215.00 361.73L214.23 363.30L213.46 363.67L212.69 363.75L211.91 363.79L211.14 363.82L210.37 363.83L209.60 363.83L208.83 363.83L208.06 363.82L207.29 363.79L206.51 363.75L205.74 363.67L204.97 363.30L204.20 361.73Z" fill="#080808" opacity="1.0" filter="url(#b1)"/>
<rect x="218.50" y="352.50" width="8.50" height="6.00" fill="#dadada" opacity="0.35" filter="url(#b1)"/>
<rect x="219.00" y="357.80" width="8.00" height="2.20" fill="#888" opacity="0.25" filter="url(#b1)"/>
<path d="M217.20 361.60L217.99 359.91L218.77 359.49L219.56 359.40L220.34 359.40L221.13 359.40L221.91 359.40L222.70 359.40L223.49 359.40L224.27 359.40L225.06 359.40L225.84 359.40L226.63 359.49L227.41 359.91L228.20 361.60L228.20 361.60L227.41 363.29L226.63 363.71L225.84 363.80L225.06 363.80L224.27 363.80L223.49 363.80L222.70 363.80L221.91 363.80L221.13 363.80L220.34 363.80L219.56 363.80L218.77 363.71L217.99 363.29L217.20 361.60Z" fill="#040404" opacity="1.0" filter="url(#b1)"/>
<path d="M231.00 359.30L231.57 358.80L232.14 358.80L232.71 358.80L233.29 358.80L233.86 358.80L234.43 358.80L235.00 358.80L235.57 358.80L236.14 358.80L236.71 358.80L237.29 358.80L237.86 358.80L238.43 358.80L239.00 359.30L239.00 359.30L238.43 359.80L237.86 359.80L237.29 359.80L236.71 359.80L236.14 359.80L235.57 359.80L235.00 359.80L234.43 359.80L233.86 359.80L233.29 359.80L232.71 359.80L232.14 359.80L231.57 359.80L231.00 359.30Z" fill="#999" opacity="0.22" filter="url(#b1)"/>
<path d="M231.00 362.30L231.57 361.75L232.14 361.75L232.71 361.75L233.29 361.75L233.86 361.75L234.43 361.75L235.00 361.75L235.57 361.75L236.14 361.75L236.71 361.75L237.29 361.75L237.86 361.75L238.43 361.75L239.00 362.30L239.00 362.30L238.43 362.85L237.86 362.85L237.29 362.85L236.71 362.85L236.14 362.85L235.57 362.85L235.00 362.85L234.43 362.85L233.86 362.85L233.29 362.85L232.71 362.85L232.14 362.85L231.57 362.85L231.00 362.30Z" fill="#999" opacity="0.28" filter="url(#b1)"/>
</g>
<g clip-path="url(#cpB2)">
<ellipse cx="51.0" cy="384.8" rx="2.5" ry="2.0" fill="#0c0c0c" filter="url(#b1)"/>
<path d="M52 384.4L58.6 382.9" stroke="#333" stroke-width="1.4" stroke-linecap="round" filter="url(#b1)" opacity="0.8"/>
<path d="M195.00 387.40L195.39 386.77L195.77 386.70L196.16 386.70L196.54 386.70L196.93 386.70L197.31 386.70L197.70 386.70L198.09 386.70L198.47 386.70L198.86 386.70L199.24 386.70L199.63 386.70L200.01 386.77L200.40 387.40L200.40 387.40L200.01 388.03L199.63 388.10L199.24 388.10L198.86 388.10L198.47 388.10L198.09 388.10L197.70 388.10L197.31 388.10L196.93 388.10L196.54 388.10L196.16 388.10L195.77 388.10L195.39 388.03L195.00 387.40Z" fill="#888" opacity="0.38" filter="url(#b1)"/>
<rect x="206.50" y="377.00" width="5.00" height="8.00" fill="#999" opacity="0.22" filter="url(#b2)"/>
<ellipse cx="209.4" cy="387.4" rx="2.4" ry="2.1" fill="#1c1c1c" filter="url(#b1)"/>
<path d="M210.50 387.50L210.93 386.73L211.36 386.60L211.79 386.60L212.21 386.60L212.64 386.60L213.07 386.60L213.50 386.60L213.93 386.60L214.36 386.60L214.79 386.60L215.21 386.60L215.64 386.60L216.07 386.73L216.50 387.50L216.50 387.50L216.07 388.27L215.64 388.40L215.21 388.40L214.79 388.40L214.36 388.40L213.93 388.40L213.50 388.40L213.07 388.40L212.64 388.40L212.21 388.40L211.79 388.40L211.36 388.40L210.93 388.27L210.50 387.50Z" fill="#3a3a3a" opacity="0.75" filter="url(#b1)"/>
<rect x="221.00" y="377.00" width="5.00" height="8.00" fill="#999" opacity="0.2" filter="url(#b2)"/>
<ellipse cx="224.0" cy="387.4" rx="2.4" ry="2.1" fill="#1c1c1c" filter="url(#b1)"/>
<path d="M225.00 387.50L225.44 386.72L225.89 386.60L226.33 386.60L226.77 386.60L227.21 386.60L227.66 386.60L228.10 386.60L228.54 386.60L228.99 386.60L229.43 386.60L229.87 386.60L230.31 386.60L230.76 386.72L231.20 387.50L231.20 387.50L230.76 388.28L230.31 388.40L229.87 388.40L229.43 388.40L228.99 388.40L228.54 388.40L228.10 388.40L227.66 388.40L227.21 388.40L226.77 388.40L226.33 388.40L225.89 388.40L225.44 388.28L225.00 387.50Z" fill="#3a3a3a" opacity="0.75" filter="url(#b1)"/>
<rect x="236.50" y="377.00" width="5.50" height="7.00" fill="#999" opacity="0.25" filter="url(#b2)"/>
<ellipse cx="239.6" cy="386.7" rx="3.1" ry="2.6" fill="#0c0c0c" filter="url(#b1)"/>
<path d="M241.00 386.60L241.33 385.82L241.66 385.59L241.99 385.51L242.31 385.50L242.64 385.50L242.97 385.50L243.30 385.50L243.63 385.50L243.96 385.50L244.29 385.50L244.61 385.51L244.94 385.59L245.27 385.82L245.60 386.60L245.60 386.60L245.27 387.38L244.94 387.61L244.61 387.69L244.29 387.70L243.96 387.70L243.63 387.70L243.30 387.70L242.97 387.70L242.64 387.70L242.31 387.70L241.99 387.69L241.66 387.61L241.33 387.38L241.00 386.60Z" fill="#222" opacity="0.9" filter="url(#b1)"/>
<rect x="250.00" y="376.50" width="12.00" height="7.00" fill="#777" opacity="0.42" filter="url(#b2)"/>
<rect x="264.00" y="376.50" width="15.00" height="7.00" fill="#888" opacity="0.36" filter="url(#b2)"/>
<path d="M249.40 386.40L250.44 384.29L251.49 383.81L252.53 383.75L253.57 383.75L254.61 383.75L255.66 383.75L256.70 383.75L257.74 383.75L258.79 383.89L259.83 384.19L260.87 384.54L261.91 384.92L262.96 385.32L264.00 385.74L264.00 387.06L262.96 387.48L261.91 387.88L260.87 388.26L259.83 388.61L258.79 388.91L257.74 389.05L256.70 389.05L255.66 389.05L254.61 389.05L253.57 389.05L252.53 389.05L251.49 388.99L250.44 388.51L249.40 386.40Z" fill="#050505" opacity="1.0" filter="url(#b1)"/>
<path d="M262.60 386.30L263.86 384.16L265.11 383.85L266.37 383.85L267.63 383.85L268.89 383.85L270.14 383.85L271.40 383.85L272.66 383.85L273.91 383.98L275.17 384.26L276.43 384.58L277.69 384.93L278.94 385.30L280.20 385.69L280.20 386.91L278.94 387.30L277.69 387.67L276.43 388.02L275.17 388.34L273.91 388.62L272.66 388.75L271.40 388.75L270.14 388.75L268.89 388.75L267.63 388.75L266.37 388.75L265.11 388.75L263.86 388.44L262.60 386.30Z" fill="#050505" opacity="1.0" filter="url(#b1)"/>
<path d="M258.00 386.40L258.71 385.01L259.43 384.72L260.14 384.70L260.86 384.70L261.57 384.70L262.29 384.70L263.00 384.70L263.71 384.70L264.43 384.70L265.14 384.70L265.86 384.70L266.57 384.72L267.29 385.01L268.00 386.40L268.00 386.40L267.29 387.79L266.57 388.08L265.86 388.10L265.14 388.10L264.43 388.10L263.71 388.10L263.00 388.10L262.29 388.10L261.57 388.10L260.86 388.10L260.14 388.10L259.43 388.08L258.71 387.79L258.00 386.40Z" fill="#050505" opacity="1.0" filter="url(#b1)"/>
<rect x="283.00" y="378.00" width="5.00" height="6.00" fill="#999" opacity="0.25" filter="url(#b1)"/>
<path d="M281.80 386.20L282.41 384.94L283.03 384.64L283.64 384.60L284.26 384.60L284.87 384.60L285.49 384.60L286.10 384.60L286.71 384.60L287.33 384.60L287.94 384.60L288.56 384.60L289.17 384.64L289.79 384.94L290.40 386.20L290.40 386.20L289.79 387.46L289.17 387.76L288.56 387.80L287.94 387.80L287.33 387.80L286.71 387.80L286.10 387.80L285.49 387.80L284.87 387.80L284.26 387.80L283.64 387.80L283.03 387.76L282.41 387.46L281.80 386.20Z" fill="#101010" opacity="1.0" filter="url(#b1)"/>
<path d="M294.60 386.80L295.10 386.21L295.60 386.20L296.10 386.20L296.60 386.20L297.10 386.20L297.60 386.20L298.10 386.20L298.60 386.20L299.10 386.20L299.60 386.20L300.10 386.20L300.60 386.20L301.10 386.21L301.60 386.80L301.60 386.80L301.10 387.39L300.60 387.40L300.10 387.40L299.60 387.40L299.10 387.40L298.60 387.40L298.10 387.40L297.60 387.40L297.10 387.40L296.60 387.40L296.10 387.40L295.60 387.40L295.10 387.39L294.60 386.80Z" fill="#888" opacity="0.4" filter="url(#b1)"/>
<ellipse cx="305.2" cy="386.4" rx="1.2" ry="1" fill="#777" opacity="0.5" filter="url(#b1)"/>
</g>
<rect x="48.3" y="488.1" width="78.3" height="31.0" fill="url(#gC1)"/>
<rect x="48.3" y="521.2" width="78.3" height="14.3" fill="url(#gC2)"/>
<text class="s8" x="8.2" y="506.6">PARP1</text>
<text class="s8" x="10.0" y="530.4">HES1</text>
<text class="rl" transform="translate(65.7 482.0) rotate(-90) scale(0.895 1)">Input</text>
<text class="rl" transform="translate(91.0 482.0) rotate(-90) scale(0.895 1)">IgG IP</text>
<text class="rl" transform="translate(117.3 482.0) rotate(-90) scale(0.895 1)">PARP1 IP</text>
<g clip-path="url(#cpC1)">
<rect x="50.00" y="494.50" width="29.00" height="11.00" fill="#999" opacity="0.5" filter="url(#b3)"/>
<rect x="101.00" y="494.00" width="26.00" height="11.50" fill="#999" opacity="0.5" filter="url(#b3)"/>
<rect x="105.50" y="488.00" width="2.00" height="9.00" fill="#999" opacity="0.5" filter="url(#b1)"/>
<rect x="111.00" y="488.00" width="2.00" height="9.00" fill="#aaa" opacity="0.45" filter="url(#b1)"/>
<rect x="121.00" y="488.00" width="2.50" height="9.00" fill="#999" opacity="0.5" filter="url(#b1)"/>
<rect x="48.00" y="513.00" width="79.00" height="6.50" fill="#d4d4d4" opacity="0.5" filter="url(#b3)"/>
<path d="M52.20 500.30L54.06 498.00L55.91 497.95L57.77 497.95L59.63 497.95L61.49 497.95L63.34 497.95L65.20 497.95L67.06 497.95L68.91 498.07L70.77 498.34L72.63 498.65L74.49 498.99L76.34 499.34L78.20 499.71L78.20 500.89L76.34 501.26L74.49 501.61L72.63 501.95L70.77 502.26L68.91 502.53L67.06 502.65L65.20 502.65L63.34 502.65L61.49 502.65L59.63 502.65L57.77 502.65L55.91 502.65L54.06 502.60L52.20 500.30Z" fill="#0a0a0a" opacity="1.0" filter="url(#b1)"/>
<path d="M54.20 509.00L55.64 507.75L57.09 507.75L58.53 507.75L59.97 507.75L61.41 507.75L62.86 507.75L64.30 507.75L65.74 507.75L67.19 507.75L68.63 507.75L70.07 507.75L71.51 507.75L72.96 507.75L74.40 509.00L74.40 509.00L72.96 510.25L71.51 510.25L70.07 510.25L68.63 510.25L67.19 510.25L65.74 510.25L64.30 510.25L62.86 510.25L61.41 510.25L59.97 510.25L58.53 510.25L57.09 510.25L55.64 510.25L54.20 509.00Z" fill="#2a2a2a" opacity="0.9" filter="url(#b1)"/>
<path d="M80.20 502.07L81.69 501.08L83.17 500.96L84.66 500.86L86.14 500.78L87.63 500.71L89.11 500.65L90.60 500.62L92.09 500.60L93.57 500.59L95.06 500.61L96.54 500.63L98.03 500.68L99.51 500.74L101.00 501.67L101.00 501.67L99.51 502.44L98.03 502.38L96.54 502.33L95.06 502.31L93.57 502.29L92.09 502.30L90.60 502.32L89.11 502.35L87.63 502.41L86.14 502.48L84.66 502.56L83.17 502.66L81.69 502.78L80.20 502.07Z" fill="#2a2a2a" opacity="0.9" filter="url(#b1)"/>
<path d="M102.60 499.80L104.31 497.39L106.03 497.25L107.74 497.25L109.46 497.25L111.17 497.25L112.89 497.25L114.60 497.25L116.31 497.25L118.03 497.25L119.74 497.25L121.46 497.25L123.17 497.25L124.89 497.39L126.60 499.80L126.60 499.80L124.89 502.21L123.17 502.35L121.46 502.35L119.74 502.35L118.03 502.35L116.31 502.35L114.60 502.35L112.89 502.35L111.17 502.35L109.46 502.35L107.74 502.35L106.03 502.35L104.31 502.21L102.60 499.80Z" fill="#0a0a0a" opacity="1.0" filter="url(#b1)"/>
<path d="M104.20 508.30L105.76 507.10L107.31 507.10L108.87 507.10L110.43 507.10L111.99 507.10L113.54 507.10L115.10 507.10L116.66 507.10L118.21 507.10L119.77 507.10L121.33 507.10L122.89 507.10L124.44 507.10L126.00 508.30L126.00 508.30L124.44 509.50L122.89 509.50L121.33 509.50L119.77 509.50L118.21 509.50L116.66 509.50L115.10 509.50L113.54 509.50L111.99 509.50L110.43 509.50L108.87 509.50L107.31 509.50L105.76 509.50L104.20 508.30Z" fill="#3a3a3a" opacity="0.85" filter="url(#b1)"/>
<rect x="92.00" y="514.00" width="5.00" height="2.00" fill="#d8d8d8" opacity="0.3" filter="url(#b1)"/>
</g>
<g clip-path="url(#cpC2)">
<rect x="50.00" y="524.00" width="77.00" height="8.00" fill="#aaa" opacity="0.35" filter="url(#b3)"/>
<path d="M53.60 527.46L55.07 525.94L56.54 526.15L58.01 526.37L59.49 526.54L60.96 526.68L62.43 526.78L63.90 526.82L65.37 526.78L66.84 526.68L68.31 526.54L69.79 526.37L71.26 526.15L72.73 525.94L74.20 527.46L74.20 527.46L72.73 529.26L71.26 529.27L69.79 529.24L68.31 529.20L66.84 529.17L65.37 529.13L63.90 529.11L62.43 529.13L60.96 529.17L59.49 529.20L58.01 529.24L56.54 529.27L55.07 529.26L53.60 527.46Z" fill="#080808" opacity="1.0" filter="url(#b1)"/>
<path d="M104.00 527.50L105.53 525.37L107.06 525.25L108.59 525.25L110.11 525.25L111.64 525.25L113.17 525.25L114.70 525.25L116.23 525.25L117.76 525.25L119.29 525.25L120.81 525.25L122.34 525.25L123.87 525.37L125.40 527.50L125.40 527.50L123.87 529.63L122.34 529.75L120.81 529.75L119.29 529.75L117.76 529.75L116.23 529.75L114.70 529.75L113.17 529.75L111.64 529.75L110.11 529.75L108.59 529.75L107.06 529.75L105.53 529.63L104.00 527.50Z" fill="#0a0a0a" opacity="1.0" filter="url(#b1)"/>
</g>
<rect x="212.0" y="485.9" width="172.0" height="26.3" fill="url(#gD1)"/>
<rect x="212.0" y="516.3" width="172.0" height="20.4" fill="url(#gD2)"/>
<rect x="386.0" y="485.4" width="125.0" height="26.8" fill="url(#gD3)"/>
<rect x="386.0" y="515.9" width="125.0" height="21.2" fill="url(#gD4)"/>
<text class="s7" x="237" y="453.8" text-anchor="middle">Input</text>
<text class="s7" x="237" y="462.4" text-anchor="middle">lysate</text>
<path d="M216.2 466.3H257" stroke="#222" stroke-width="0.8"/>
<text font-size="9" font-style="italic" x="156.2" y="482">FLAG-HES1</text>
<text class="s8" x="163.6" y="502.4">PARP1</text>
<text class="s8" x="156.2" y="529.2">FLAG-HES1</text>
<path d="M203 496.3H196.2V505H203" fill="none" stroke="#111" stroke-width="0.9"/>
<path d="M207.6 496.3L202.4 494V498.6Z M207.6 505L202.4 502.7V507.3Z" fill="#111"/>
<text font-size="7.5" x="231.3" y="481.1" text-anchor="middle" style="stroke-width:0.3px">-</text>
<text font-size="8" x="249.3" y="482.2" text-anchor="middle" style="stroke-width:0.25px">+</text>
<text font-size="7.5" x="268.6" y="481.1" text-anchor="middle" style="stroke-width:0.3px">-</text>
<text font-size="7.5" x="289.8" y="481.1" text-anchor="middle" style="stroke-width:0.3px">-</text>
<text font-size="7.5" x="310.2" y="481.1" text-anchor="middle" style="stroke-width:0.3px">-</text>
<text font-size="8" x="329.2" y="482.2" text-anchor="middle" style="stroke-width:0.25px">+</text>
<text font-size="8" x="347.2" y="482.2" text-anchor="middle" style="stroke-width:0.25px">+</text>
<text font-size="8" x="366" y="482.2" text-anchor="middle" style="stroke-width:0.25px">+</text>
<text font-size="7.5" x="400.5" y="481.1" text-anchor="middle" style="stroke-width:0.3px">-</text>
<text font-size="7.5" x="421.6" y="481.1" text-anchor="middle" style="stroke-width:0.3px">-</text>
<text font-size="7.5" x="440.0" y="481.1" text-anchor="middle" style="stroke-width:0.3px">-</text>
<text font-size="8" x="458.6" y="482.2" text-anchor="middle" style="stroke-width:0.25px">+</text>
<text font-size="8" x="478.2" y="482.2" text-anchor="middle" style="stroke-width:0.25px">+</text>
<text font-size="8" x="496.9" y="482.2" text-anchor="middle" style="stroke-width:0.25px">+</text>
<text class="rl" transform="translate(272.1 472.7) rotate(-90) scale(0.895 1)">Input</text>
<text class="rl" transform="translate(292.1 472.7) rotate(-90) scale(0.895 1)">IgG IP</text>
<text class="rl" transform="translate(311.9 472.7) rotate(-90) scale(0.895 1)">PARP1 IP</text>
<text class="rl" transform="translate(331.3 472.7) rotate(-90) scale(0.895 1)">Input</text>
<text class="rl" transform="translate(348.9 472.7) rotate(-90) scale(0.895 1)">IgG IP</text>
<text class="rl" transform="translate(368.0 472.7) rotate(-90) scale(0.895 1)">PARP1 IP</text>
<text class="rl" transform="translate(402.0 469.9) rotate(-90) scale(0.895 1)">Input</text>
<text class="rl" transform="translate(422.6 469.9) rotate(-90) scale(0.895 1)">IgG IP</text>
<text class="rl" transform="translate(443.5 469.9) rotate(-90) scale(0.895 1)">FLAG IP</text>
<text class="rl" transform="translate(461.3 469.9) rotate(-90) scale(0.895 1)">Input</text>
<text class="rl" transform="translate(481.4 469.9) rotate(-90) scale(0.895 1)">IgG IP</text>
<text class="rl" transform="translate(500.0 469.9) rotate(-90) scale(0.895 1)">FLAG IP</text>
<path d="M221.00 495.90L222.27 493.72L223.54 493.40L224.81 493.40L226.09 493.40L227.36 493.40L228.63 493.40L229.90 493.40L231.17 493.40L232.44 493.40L233.71 493.40L234.99 493.40L236.26 493.40L237.53 493.72L238.80 495.90L238.80 495.90L237.53 498.08L236.26 498.40L234.99 498.40L233.71 498.40L232.44 498.40L231.17 498.40L229.90 498.40L228.63 498.40L227.36 498.40L226.09 498.40L224.81 498.40L223.54 498.40L222.27 498.08L221.00 495.90Z" fill="#060606" opacity="1.0" filter="url(#b1)"/>
<path d="M242.50 495.50L242.98 494.40L243.46 494.10L243.94 494.00L244.41 494.00L244.89 494.00L245.37 494.00L245.85 494.00L246.33 494.00L246.81 494.00L247.29 494.00L247.76 494.00L248.24 494.10L248.72 494.40L249.20 495.50L249.20 495.50L248.72 496.60L248.24 496.90L247.76 497.00L247.29 497.00L246.81 497.00L246.33 497.00L245.85 497.00L245.37 497.00L244.89 497.00L244.41 497.00L243.94 497.00L243.46 496.90L242.98 496.60L242.50 495.50Z" fill="#0a0a0a" opacity="1.0" filter="url(#b1)"/>
<path d="M247.50 495.60L247.86 495.05L248.21 495.00L248.57 495.00L248.93 495.00L249.29 495.00L249.64 495.00L250.00 495.00L250.36 495.00L250.71 495.00L251.07 495.00L251.43 495.00L251.79 495.00L252.14 495.05L252.50 495.60L252.50 495.60L252.14 496.15L251.79 496.20L251.43 496.20L251.07 496.20L250.71 496.20L250.36 496.20L250.00 496.20L249.64 496.20L249.29 496.20L248.93 496.20L248.57 496.20L248.21 496.20L247.86 496.15L247.50 495.60Z" fill="#333" opacity="0.75" filter="url(#b1)"/>
<path d="M250.80 495.40L251.24 494.41L251.67 494.14L252.11 494.05L252.54 494.05L252.98 494.05L253.41 494.05L253.85 494.05L254.29 494.05L254.72 494.05L255.16 494.05L255.59 494.05L256.03 494.14L256.46 494.41L256.90 495.40L256.90 495.40L256.46 496.39L256.03 496.66L255.59 496.75L255.16 496.75L254.72 496.75L254.29 496.75L253.85 496.75L253.41 496.75L252.98 496.75L252.54 496.75L252.11 496.75L251.67 496.66L251.24 496.39L250.80 495.40Z" fill="#0a0a0a" opacity="1.0" filter="url(#b1)"/>
<path d="M242.30 504.30L243.40 502.45L244.50 502.24L245.60 502.32L246.70 502.38L247.80 502.44L248.90 502.48L250.00 502.50L251.10 502.48L252.20 502.44L253.30 502.38L254.40 502.32L255.50 502.24L256.60 502.45L257.70 504.30L257.70 504.30L256.60 506.15L255.50 506.36L254.40 506.28L253.30 506.22L252.20 506.16L251.10 506.12L250.00 506.10L248.90 506.12L247.80 506.16L246.70 506.22L245.60 506.28L244.50 506.36L243.40 506.15L242.30 504.30Z" fill="#060606" opacity="1.0" filter="url(#b1)"/>
<path d="M260.80 495.40L262.06 493.06L263.31 492.61L264.57 492.60L265.83 492.60L267.09 492.60L268.34 492.60L269.60 492.60L270.86 492.60L272.11 492.60L273.37 492.60L274.63 492.60L275.89 492.61L277.14 493.06L278.40 495.40L278.40 495.40L277.14 497.74L275.89 498.19L274.63 498.20L273.37 498.20L272.11 498.20L270.86 498.20L269.60 498.20L268.34 498.20L267.09 498.20L265.83 498.20L264.57 498.20L263.31 498.19L262.06 497.74L260.80 495.40Z" fill="#060606" opacity="1.0" filter="url(#b1)"/>
<path d="M300.30 496.40L301.64 493.67L302.97 493.04L304.31 492.95L305.64 492.95L306.98 492.95L308.31 492.95L309.65 492.95L310.99 492.95L312.32 492.95L313.66 492.95L314.99 492.95L316.33 493.04L317.66 493.67L319.00 496.40L319.00 496.40L317.66 499.13L316.33 499.76L314.99 499.85L313.66 499.85L312.32 499.85L310.99 499.85L309.65 499.85L308.31 499.85L306.98 499.85L305.64 499.85L304.31 499.85L302.97 499.76L301.64 499.13L300.30 496.40Z" fill="#060606" opacity="1.0" filter="url(#b1)"/>
<path d="M307 500.8L309.6 498.9L312.2 500.8Z" fill="#bcbcbc" filter="url(#b1)" opacity="0.75"/>
<path d="M302.20 505.00L302.61 504.39L303.03 504.35L303.44 504.35L303.86 504.35L304.27 504.35L304.69 504.35L305.10 504.35L305.51 504.35L305.93 504.35L306.34 504.35L306.76 504.35L307.17 504.35L307.59 504.39L308.00 505.00L308.00 505.00L307.59 505.61L307.17 505.65L306.76 505.65L306.34 505.65L305.93 505.65L305.51 505.65L305.10 505.65L304.69 505.65L304.27 505.65L303.86 505.65L303.44 505.65L303.03 505.65L302.61 505.61L302.20 505.00Z" fill="#555" opacity="0.55" filter="url(#b1)"/>
<path d="M311.00 505.00L311.40 504.40L311.80 504.35L312.20 504.35L312.60 504.35L313.00 504.35L313.40 504.35L313.80 504.35L314.20 504.35L314.60 504.35L315.00 504.35L315.40 504.35L315.80 504.35L316.20 504.40L316.60 505.00L316.60 505.00L316.20 505.60L315.80 505.65L315.40 505.65L315.00 505.65L314.60 505.65L314.20 505.65L313.80 505.65L313.40 505.65L313.00 505.65L312.60 505.65L312.20 505.65L311.80 505.65L311.40 505.60L311.00 505.00Z" fill="#555" opacity="0.55" filter="url(#b1)"/>
<path d="M320.60 494.80L321.69 493.27L322.77 493.23L323.86 493.31L324.94 493.37L326.03 493.43L327.11 493.47L328.20 493.49L329.29 493.47L330.37 493.43L331.46 493.37L332.54 493.31L333.63 493.23L334.71 493.27L335.80 494.80L335.80 494.80L334.71 496.33L333.63 496.37L332.54 496.29L331.46 496.23L330.37 496.17L329.29 496.13L328.20 496.11L327.11 496.13L326.03 496.17L324.94 496.23L323.86 496.29L322.77 496.37L321.69 496.33L320.60 494.80Z" fill="#0a0a0a" opacity="1.0" filter="url(#b1)"/>
<path d="M320.20 503.10L321.39 501.12L322.57 500.85L323.76 500.85L324.94 500.85L326.13 500.85L327.31 500.85L328.50 500.85L329.69 500.85L330.87 500.85L332.06 500.85L333.24 500.85L334.43 500.85L335.61 501.12L336.80 503.10L336.80 503.10L335.61 505.08L334.43 505.35L333.24 505.35L332.06 505.35L330.87 505.35L329.69 505.35L328.50 505.35L327.31 505.35L326.13 505.35L324.94 505.35L323.76 505.35L322.57 505.35L321.39 505.08L320.20 503.10Z" fill="#060606" opacity="1.0" filter="url(#b1)"/>
<path d="M360.20 494.70L361.30 492.91L362.40 492.72L363.50 492.74L364.60 492.75L365.70 492.77L366.80 492.79L367.90 492.80L369.00 492.79L370.10 492.77L371.20 492.75L372.30 492.74L373.40 492.72L374.50 492.91L375.60 494.70L375.60 494.70L374.50 496.33L373.40 496.39L372.30 496.26L371.20 496.16L370.10 496.08L369.00 496.02L367.90 496.00L366.80 496.02L365.70 496.08L364.60 496.16L363.50 496.26L362.40 496.39L361.30 496.33L360.20 494.70Z" fill="#0a0a0a" opacity="1.0" filter="url(#b1)"/>
<path d="M359.80 502.00L360.96 499.89L362.11 499.51L363.27 499.50L364.43 499.50L365.59 499.50L366.74 499.50L367.90 499.50L369.06 499.50L370.21 499.50L371.37 499.50L372.53 499.50L373.69 499.51L374.84 499.89L376.00 502.00L376.00 502.00L374.84 504.11L373.69 504.49L372.53 504.50L371.37 504.50L370.21 504.50L369.06 504.50L367.90 504.50L366.74 504.50L365.59 504.50L364.43 504.50L363.27 504.50L362.11 504.49L360.96 504.11L359.80 502.00Z" fill="#060606" opacity="1.0" filter="url(#b1)"/>
<path d="M391.20 493.33L392.49 491.52L393.77 491.55L395.06 491.78L396.34 491.97L397.63 492.12L398.91 492.23L400.20 492.28L401.49 492.23L402.77 492.12L404.06 491.97L405.34 491.78L406.63 491.55L407.91 491.52L409.20 493.33L409.20 493.33L407.91 495.36L406.63 495.51L405.34 495.42L404.06 495.35L402.77 495.28L401.49 495.22L400.20 495.19L398.91 495.22L397.63 495.28L396.34 495.35L395.06 495.42L393.77 495.51L392.49 495.36L391.20 493.33Z" fill="#060606" opacity="1.0" filter="url(#b1)"/>
<path d="M452.20 494.30L453.21 492.77L454.23 492.60L455.24 492.55L456.26 492.51L457.27 492.48L458.29 492.46L459.30 492.45L460.31 492.46L461.33 492.48L462.34 492.51L463.36 492.55L464.37 492.60L465.39 492.77L466.40 494.30L466.40 494.30L465.39 495.68L464.37 495.70L463.36 495.65L462.34 495.61L461.33 495.58L460.31 495.56L459.30 495.55L458.29 495.56L457.27 495.58L456.26 495.61L455.24 495.65L454.23 495.70L453.21 495.68L452.20 494.30Z" fill="#0a0a0a" opacity="1.0" filter="url(#b1)"/>
<path d="M452.00 502.30L453.09 500.43L454.17 500.15L455.26 500.15L456.34 500.15L457.43 500.15L458.51 500.15L459.60 500.15L460.69 500.15L461.77 500.15L462.86 500.15L463.94 500.15L465.03 500.15L466.11 500.43L467.20 502.30L467.20 502.30L466.11 504.17L465.03 504.45L463.94 504.45L462.86 504.45L461.77 504.45L460.69 504.45L459.60 504.45L458.51 504.45L457.43 504.45L456.34 504.45L455.26 504.45L454.17 504.45L453.09 504.17L452.00 502.30Z" fill="#060606" opacity="1.0" filter="url(#b1)"/>
<path d="M490.80 493.80L491.90 492.16L493.00 491.96L494.10 491.85L495.20 491.76L496.30 491.70L497.40 491.66L498.50 491.65L499.60 491.66L500.70 491.70L501.80 491.76L502.90 491.85L504.00 491.96L505.10 492.16L506.20 493.80L506.20 493.80L505.10 495.13L504.00 495.06L502.90 494.95L501.80 494.86L500.70 494.80L499.60 494.76L498.50 494.75L497.40 494.76L496.30 494.80L495.20 494.86L494.10 494.95L493.00 495.06L491.90 495.13L490.80 493.80Z" fill="#0a0a0a" opacity="1.0" filter="url(#b1)"/>
<path d="M490.40 500.60L491.56 498.61L492.71 498.30L493.87 498.25L495.03 498.21L496.19 498.18L497.34 498.16L498.50 498.15L499.66 498.16L500.81 498.18L501.97 498.21L503.13 498.25L504.29 498.30L505.44 498.61L506.60 500.60L506.60 500.60L505.44 502.43L504.29 502.60L503.13 502.55L501.97 502.51L500.81 502.48L499.66 502.46L498.50 502.45L497.34 502.46L496.19 502.48L495.03 502.51L493.87 502.55L492.71 502.60L491.56 502.43L490.40 500.60Z" fill="#060606" opacity="1.0" filter="url(#b1)"/>
<rect x="240.8" y="522.4" width="20.0" height="11.2" rx="3" fill="#050505" filter="url(#b1)"/>
<path d="M243.5 527.6H258" stroke="#555" stroke-width="0.9" opacity="0.55" filter="url(#b1)"/>
<path d="M243.5 530.4H258" stroke="#444" stroke-width="0.7" opacity="0.4" filter="url(#b1)"/>
<path d="M319.60 526.00L321.06 523.21L322.51 522.63L323.97 522.60L325.43 522.60L326.89 522.60L328.34 522.60L329.80 522.60L331.26 522.60L332.71 522.60L334.17 522.60L335.63 522.60L337.09 522.63L338.54 523.21L340.00 526.00L340.00 526.00L338.54 528.79L337.09 529.37L335.63 529.40L334.17 529.40L332.71 529.40L331.26 529.40L329.80 529.40L328.34 529.40L326.89 529.40L325.43 529.40L323.97 529.40L322.51 529.37L321.06 528.79L319.60 526.00Z" fill="#060606" opacity="1.0" filter="url(#b1)"/>
<path d="M359.8 521.8 L363 523.0 L377 523.0 L377.6 521.4 L383.0 525.6 L377.6 529.8 L377 528.4 L363 528.6 L359.8 529.8 L361.0 525.8Z" fill="#060606" stroke="#060606" stroke-width="0.6" stroke-linejoin="round" filter="url(#b1)"/>
<path d="M452.00 526.40L453.37 523.72L454.74 523.15L456.11 523.10L457.49 523.10L458.86 523.10L460.23 523.10L461.60 523.10L462.97 523.10L464.34 523.10L465.71 523.10L467.09 523.10L468.46 523.15L469.83 523.72L471.20 526.40L471.20 526.40L469.83 529.08L468.46 529.65L467.09 529.70L465.71 529.70L464.34 529.70L462.97 529.70L461.60 529.70L460.23 529.70L458.86 529.70L457.49 529.70L456.11 529.70L454.74 529.65L453.37 529.08L452.00 526.40Z" fill="#060606" opacity="1.0" filter="url(#b1)"/>
<path d="M487.00 526.60L488.46 523.42L489.91 522.60L491.37 522.40L492.83 522.40L494.29 522.40L495.74 522.40L497.20 522.40L498.66 522.40L500.11 522.40L501.57 522.40L503.03 522.40L504.49 522.60L505.94 523.42L507.40 526.60L507.40 526.60L505.94 529.78L504.49 530.60L503.03 530.80L501.57 530.80L500.11 530.80L498.66 530.80L497.20 530.80L495.74 530.80L494.29 530.80L492.83 530.80L491.37 530.80L489.91 530.60L488.46 529.78L487.00 526.60Z" fill="#050505" opacity="1.0" filter="url(#b1)"/>
</svg></body></html>
